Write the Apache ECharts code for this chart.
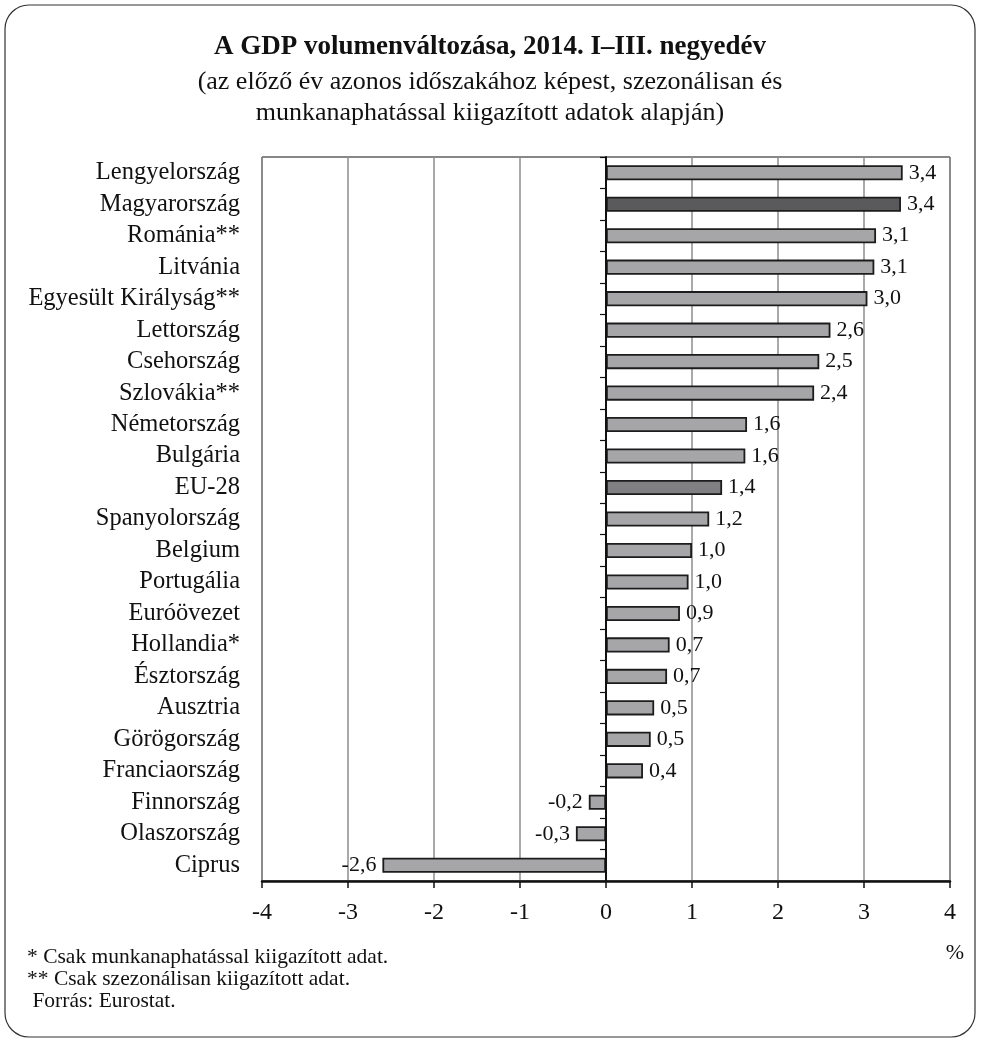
<!DOCTYPE html>
<html>
<head>
<meta charset="utf-8">
<script src="https://cdn.jsdelivr.net/npm/echarts@6/dist/echarts.min.js"></script>
<style>
html,body{margin:0;padding:0;background:#fff;}
#chart{width:981px;height:1041px;}
</style>
</head>
<body>
<div id="chart"></div>
<script>
const categories = ['Lengyelország','Magyarország','Románia**','Litvánia','Egyesült Királyság**','Lettország','Csehország','Szlovákia**','Németország','Bulgária','EU-28','Spanyolország','Belgium','Portugália','Euróövezet','Hollandia*','Észtország','Ausztria','Görögország','Franciaország','Finnország','Olaszország','Ciprus'];
const values = [3.45, 3.43, 3.14, 3.12, 3.04, 2.61, 2.48, 2.42, 1.64, 1.62, 1.35, 1.20, 1.00, 0.96, 0.86, 0.74, 0.71, 0.56, 0.52, 0.43, -0.20, -0.35, -2.60];
const valueLabels = ['3,4','3,4','3,1','3,1','3,0','2,6','2,5','2,4','1,6','1,6','1,4','1,2','1,0','1,0','0,9','0,7','0,7','0,5','0,5','0,4','-0,2','-0,3','-2,6'];
const xTicks = [-4, -3, -2, -1, 0, 1, 2, 3, 4];
const highlight = {'Magyarország':'#5a5a5c', 'EU-28':'#808082'};
const titleText = 'A GDP volumenváltozása, 2014. I–III. negyedév';
const subtitleLines = ['(az előző év azonos időszakához képest, szezonálisan és', 'munkanaphatással kiigazított adatok alapján)'];
const footnotes = ['* Csak munkanaphatással kiigazított adat.', '** Csak szezonálisan kiigazított adat.', ' Forrás: Eurostat.'];
const unitLabel = '%';

const FONT = '"Liberation Serif", "DejaVu Serif", serif';
const chart = echarts.init(document.getElementById('chart'), null, {renderer:'canvas'});

const GRID = { left:262, right:31, top:157, bottom:160 };

const seriesData = values.map((v, i) => ({
  value: v,
  itemStyle: { color: highlight[categories[i]] || '#a6a6a8' },
  label: { position: v < 0 ? 'left' : 'right' }
}));

const graphics = [
  { type:'rect', shape:{x:5, y:5, width:970, height:1032, r:24}, style:{fill:null, stroke:'#333', lineWidth:1.2}, silent:true },
  { type:'text', x:490, y:47, style:{text:titleText, font:'bold 27px ' + FONT, fill:'#111', textAlign:'center', textVerticalAlign:'middle'} }
];
subtitleLines.forEach((t, i) => graphics.push({ type:'text', x:490, y:82 + i*31, style:{text:t, font:'26px ' + FONT, fill:'#111', textAlign:'center', textVerticalAlign:'middle'} }));
footnotes.forEach((t, i) => graphics.push({ type:'text', x:27, y:957 + i*22, style:{text:t, font:'21.5px ' + FONT, fill:'#111', textAlign:'left', textVerticalAlign:'middle'} }));
graphics.push({ type:'text', x:955, y:953, style:{text:unitLabel, font:'22px ' + FONT, fill:'#111', textAlign:'center', textVerticalAlign:'middle'} });

const zeroAxis = { type:'category', data:categories, inverse:true, position:'left', offset:0,
  axisLine:{ show:true, onZero:false, lineStyle:{color:'#111', width:2} },
  axisTick:{ show:true, length:6, lineStyle:{color:'#111', width:1.2} },
  axisLabel:{ show:false }, z:5 };

chart.setOption({
  animation:false,
  backgroundColor:'#fff',
  grid:{ left:GRID.left, right:GRID.right, top:GRID.top, bottom:GRID.bottom, show:true, borderColor:'#111', borderWidth:1, backgroundColor:'transparent' },
  xAxis:{
    type:'value', min:xTicks[0], max:xTicks[xTicks.length-1], interval:1,
    axisLine:{ show:true, onZero:false, lineStyle:{color:'#111', width:2.5} },
    axisTick:{ show:true, length:7, lineStyle:{color:'#111', width:1.5} },
    axisLabel:{ margin:20, fontFamily:FONT, fontSize:24, color:'#111', formatter: v => String(v) },
    splitLine:{ show:true, lineStyle:{color:'#8c8c8c', width:1.5} }
  },
  yAxis:[
    { type:'category', data:categories, inverse:true, position:'left',
      axisLine:{show:false, onZero:false}, axisTick:{show:false},
      axisLabel:{ interval:0, margin:22, fontFamily:FONT, fontSize:24.5, color:'#111' } },
    zeroAxis
  ],
  series:[{
    type:'bar', yAxisIndex:0, data:seriesData, barCategoryGap:'52%',
    itemStyle:{ borderColor:'#1c1c1c', borderWidth:1.8 },
    label:{ show:true, distance:6, fontFamily:FONT, fontSize:22, color:'#111',
      formatter: p => valueLabels[p.dataIndex] }
  }],
  graphic: graphics
});

// move the second category axis (line + ticks) to the zero position of the value axis
const zeroX = chart.convertToPixel({xAxisIndex:0}, 0);
const leftX = chart.convertToPixel({xAxisIndex:0}, xTicks[0]);
chart.setOption({ yAxis:[{}, { offset: -(zeroX - leftX) }] });
</script>
</body>
</html>
